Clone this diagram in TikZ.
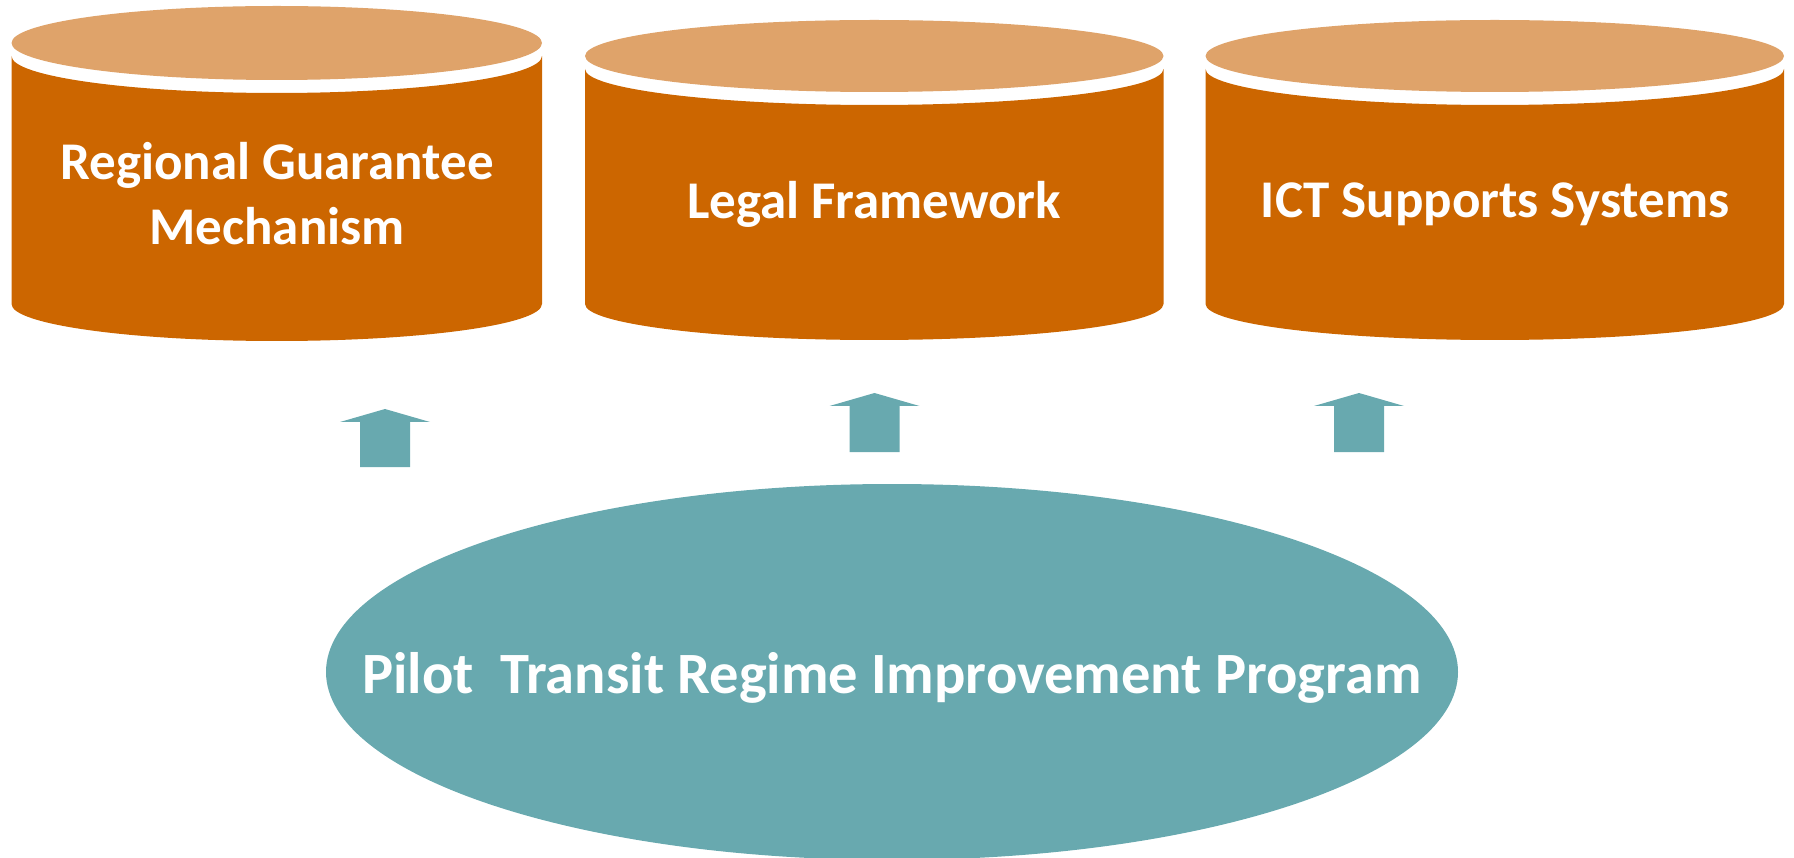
\documentclass[tikz,border=0pt]{standalone}
\usepackage{fontspec}
\setmainfont{Carlito}
\usetikzlibrary{shapes.geometric}

\definecolor{drumbody}{HTML}{CC6600}
\definecolor{drumtop}{HTML}{DFA36A}
\definecolor{pilotteal}{HTML}{68A9AF}

\tikzset{
    drumtext/.style={text=white, align=center, inner sep=0pt,
        font=\bfseries\fontsize{53}{65}\selectfont},
    pilottext/.style={text=white, inner sep=0pt,
        font=\bfseries\fontsize{58.5}{70}\selectfont},
    pilotshape/.style={ellipse, fill=pilotteal, inner sep=0pt,
        minimum width=1132pt, minimum height=376pt}
}

% drum: centre x, x radius, top centre y, body top y, bottom y, y radius
\newcommand{\Drum}[6]{
    \fill[drumbody] (#1-#2,#4) -- (#1-#2,#5)
        arc[start angle=180, end angle=0, x radius=#2, y radius=#6]
        -- (#1+#2,#4)
        arc[start angle=0, end angle=180, x radius=#2, y radius=#6] -- cycle;
    \fill[drumtop] (#1,#3) ellipse[x radius=#2, y radius=#6];
}

% block arrow: centre x, tip y, bottom y
\newcommand{\UpBlock}[3]{
    \fill[pilotteal] (#1,#2) -- (#1+45,#2+13) -- (#1+25,#2+13) -- (#1+25,#3)
        -- (#1-25,#3) -- (#1-25,#2+13) -- (#1-45,#2+13) -- cycle;
}

\begin{document}
\begin{tikzpicture}[x=1pt, y=-1pt]
    \useasboundingbox (0,0) rectangle (1794,858);
    \Drum{276.75}{265.25}{43}{56}{304}{37}
    \Drum{874.25}{289.25}{56}{69}{304}{36}
    \Drum{1494.75}{289.25}{56}{69}{304}{36}
    \node[drumtext] (guarantee) at (277,194) {Regional Guarantee\\Mechanism};
    \node[drumtext] (legal) at (874,204) {Legal Framework};
    \node[drumtext] (ict) at (1495,204) {ICT Supports Systems};
    \UpBlock{385}{409}{467}
    \UpBlock{874.5}{393}{452}
    \UpBlock{1359}{393}{452}
    \node[pilotshape] (pilot) at (892,672) {};
    \node[pilottext] (program) at (892,678) {Pilot\ \ Transit Regime Improvement Program};
\end{tikzpicture}
\end{document}
